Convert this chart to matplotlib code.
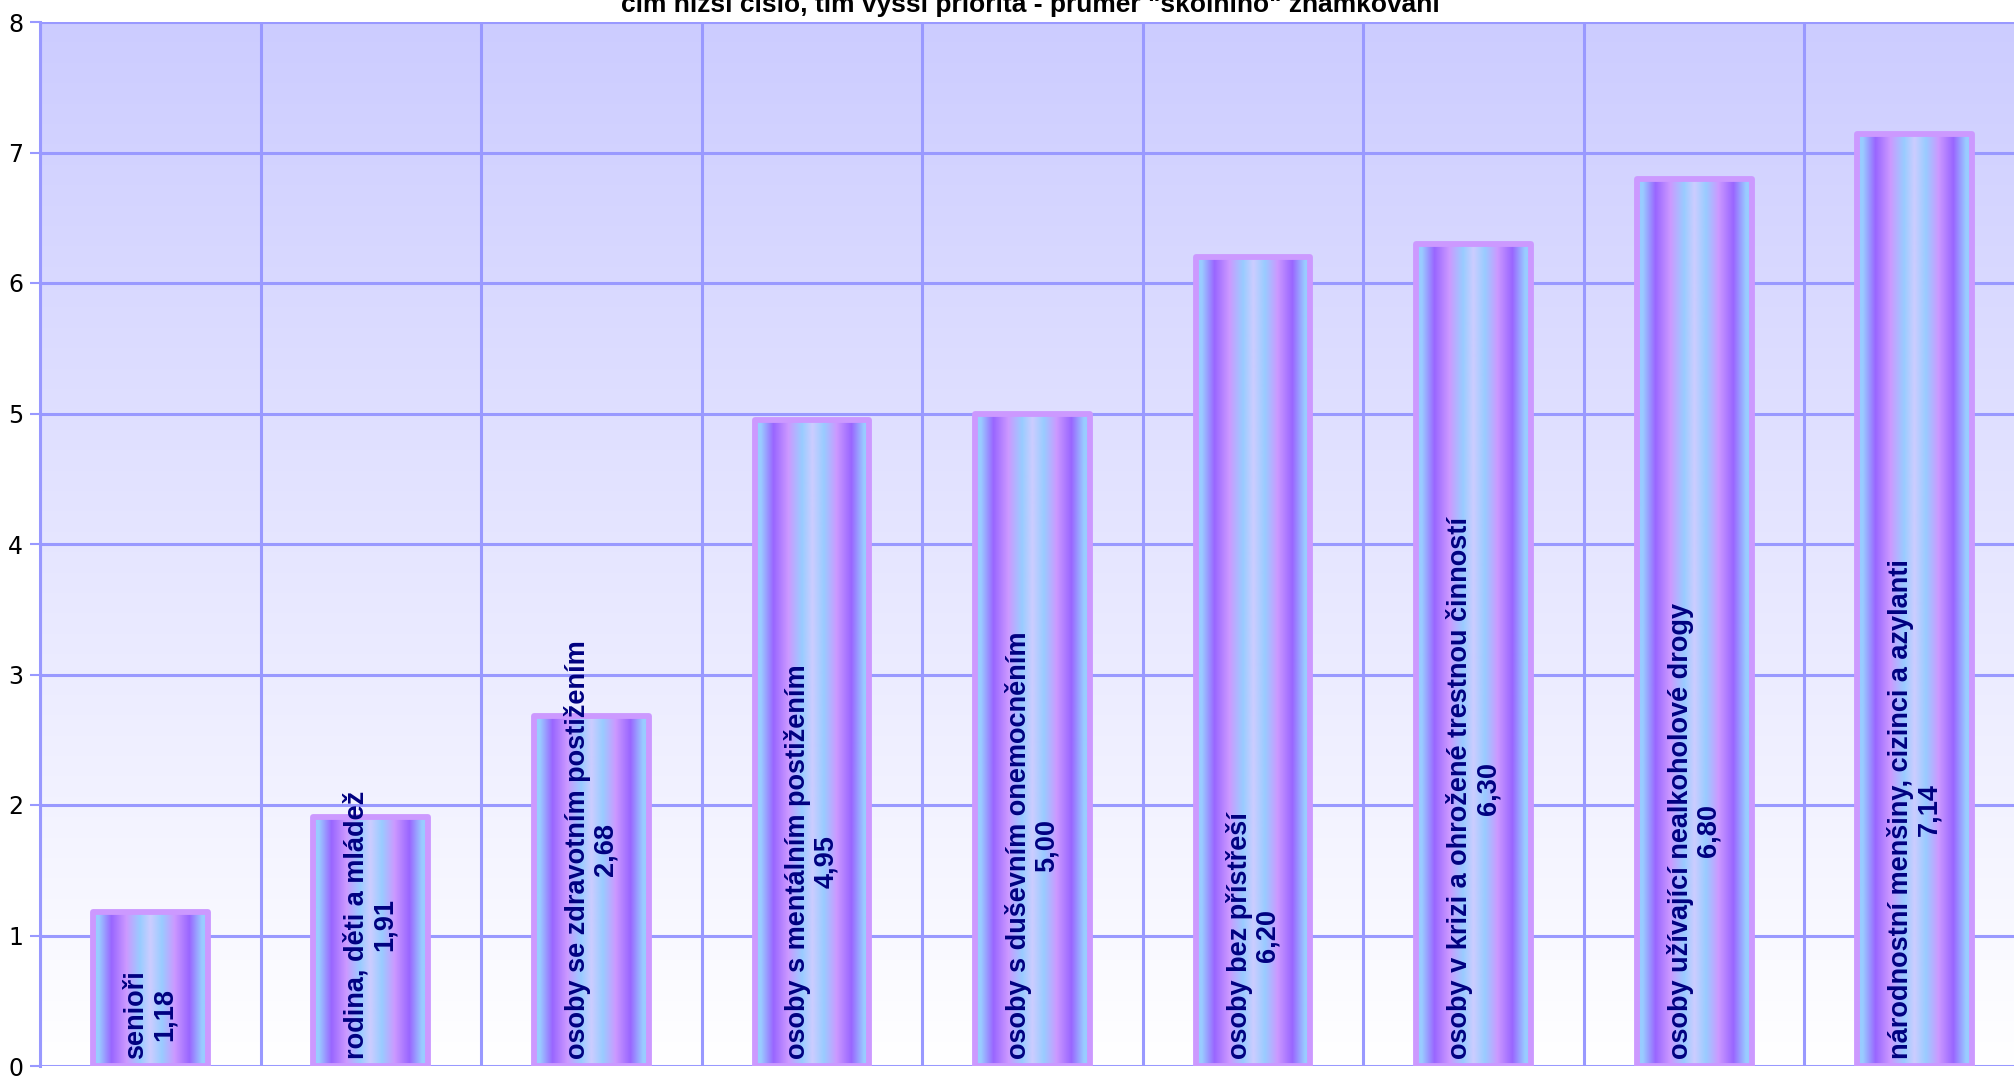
import numpy as np
import matplotlib
matplotlib.use('Agg')
import matplotlib.pyplot as plt
from matplotlib.colors import LinearSegmentedColormap

categories = ['senioři', 'rodina, děti a mládež', 'osoby se zdravotním postižením',
              'osoby s mentálním postižením', 'osoby s duševním onemocněním',
              'osoby bez přístřeší', 'osoby v krizi a ohrožené trestnou činností',
              'osoby užívající nealkoholové drogy', 'národnostní menšiny, cizinci a azylanti']
values = [1.18, 1.91, 2.68, 4.95, 5.00, 6.20, 6.30, 6.80, 7.14]
yticks = [0, 1, 2, 3, 4, 5, 6, 7, 8]
title = 'čím nižší číslo, tím vyšší priorita - průměr "školního" známkování'

grid_col = '#9999FF'
edge_col = '#CC99FF'
text_col = '#000080'

fig = plt.figure(figsize=(20.15, 10.76), dpi=100)
ax = fig.add_axes([40 / 2015, 10 / 1076, 1985 / 2015, 1044 / 1076])

# background gradient, lavender at top to white at bottom
bg = LinearSegmentedColormap.from_list('bg', ['#FFFFFF', '#CCCCFF'])
ax.imshow(np.linspace(0, 1, 256).reshape(-1, 1), cmap=bg, origin='lower',
          extent=[0, 1, 0, 1], transform=ax.transAxes, aspect='auto', zorder=0)

# bar fill: vertical stripes
stops = [(0.0, '#99CCFF'), (0.05, '#99CCFF'), (0.16, '#9966FF'), (0.29, '#CC99FF'),
         (0.41, '#99CCFF'), (0.5, '#CCCCFF'), (0.6, '#99CCFF'), (0.71, '#CC99FF'),
         (0.84, '#9966FF'), (0.95, '#99CCFF'), (1.0, '#99CCFF')]
bar_cmap = LinearSegmentedColormap.from_list('barfill', stops)
stripe = np.linspace(0, 1, 256).reshape(1, -1)

x = np.arange(len(categories))
bars = ax.bar(x, values, width=0.52, facecolor='none', edgecolor=edge_col,
              linewidth=4.2, joinstyle='round', zorder=4)

for b in bars:
    bx, bw, bh = b.get_x(), b.get_width(), b.get_height()
    im = ax.imshow(stripe, cmap=bar_cmap, extent=[bx, bx + bw, 0, bh],
                   aspect='auto', zorder=3)
    im.set_clip_path(b)

for xi, cat, v in zip(x, categories, values):
    ax.annotate(cat + '\n' + ('%.2f' % v).replace('.', ','), xy=(xi, 0),
                xytext=(0, 5), textcoords='offset points', rotation=90,
                ha='center', va='bottom', multialignment='center',
                fontsize=19.5, fontweight='bold', color=text_col,
                family='Liberation Sans', zorder=5, linespacing=1.1)

ax.set_xlim(-0.5, len(categories) - 0.5)
ax.set_ylim(0, 8)
ax.set_yticks(yticks)
ax.set_xticks(np.arange(len(categories) + 1) - 0.5)
ax.set_xticklabels([])
ax.tick_params(axis='x', length=0)
ax.tick_params(axis='y', length=7, width=1.5, color=grid_col, labelsize=17, pad=5)
ax.grid(True, color=grid_col, linewidth=2.2, zorder=1)
ax.set_axisbelow(True)
for s in ax.spines.values():
    s.set_visible(False)
ax.spines['left'].set_visible(True)
ax.spines['left'].set_color(grid_col)
ax.spines['left'].set_linewidth(2.2)

fig.text(1030 / 2015, 1 - 12 / 1076, title, ha='center', va='baseline',
         fontsize=19, fontweight='bold', family='Liberation Sans')

fig.savefig('out.png', dpi=100)
